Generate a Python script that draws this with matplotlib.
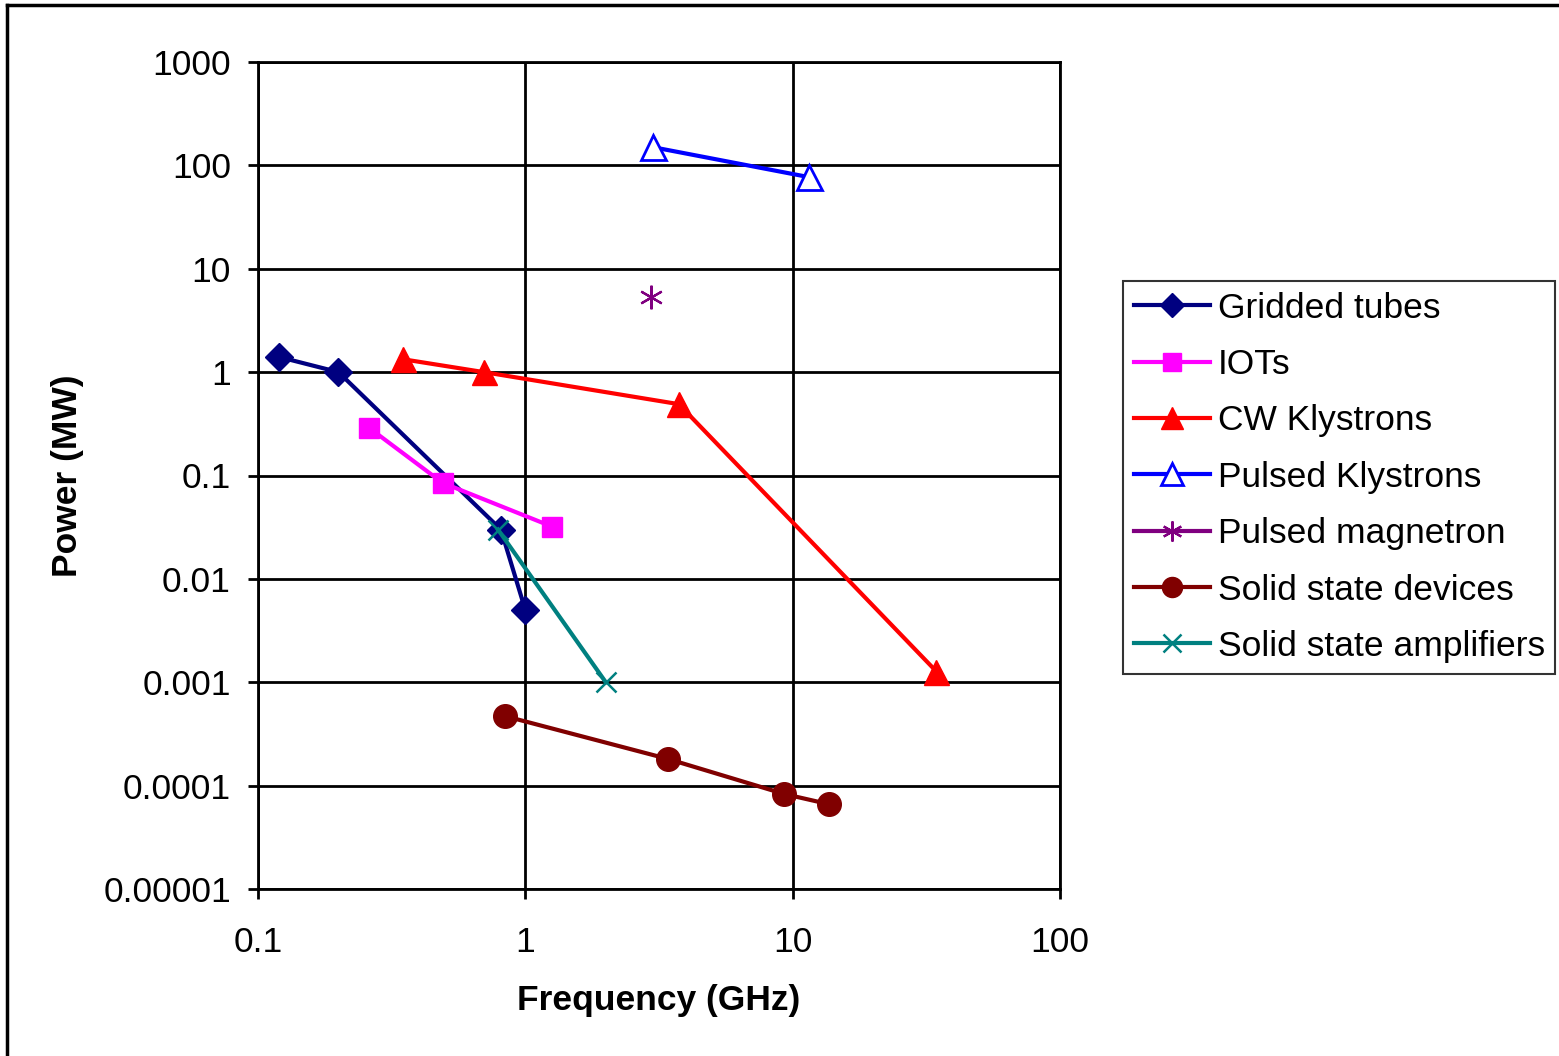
import matplotlib
matplotlib.use("Agg")
import matplotlib.pyplot as plt
from matplotlib.lines import Line2D

plt.rcParams['font.family'] = ['Liberation Sans', 'DejaVu Sans']

# Frequency (GHz) and power (MW) for each device family
gridded_f = [0.12, 0.2, 0.81, 1.0]
gridded_p = [1.4, 1.0, 0.030, 0.005]

iot_f = [0.26, 0.49, 1.26]
iot_p = [0.29, 0.085, 0.032]

cwk_f = [0.35, 0.70, 3.75, 34.5]
cwk_p = [1.33, 1.0, 0.49, 0.00127]

pk_f = [3.0, 11.5]
pk_p = [150, 77]

mag_f = [2.95]
mag_p = [5.3]

ssd_f = [0.84, 3.42, 9.3, 13.7]
ssd_p = [0.00047, 0.000181, 0.000083, 0.000066]

ssa_f = [0.79, 2.0]
ssa_p = [0.030, 0.001]

x_ticks = [0.1, 1, 10, 100]
x_ticklabels = ["0.1", "1", "10", "100"]
y_ticks = [1e-5, 1e-4, 1e-3, 1e-2, 1e-1, 1, 10, 100, 1000]
y_ticklabels = ["0.00001", "0.0001", "0.001", "0.01", "0.1", "1", "10", "100", "1000"]

W, H = 1559, 1056
fig = plt.figure(figsize=(W / 100, H / 100), dpi=100)
ax = fig.add_axes([258 / W, 1 - 889 / H, (1060 - 258) / W, (889 - 62) / H])

lw = 3
ax.plot(gridded_f, gridded_p, color='#000080', lw=lw, marker='D', ms=14,
        label='Gridded tubes', zorder=3)
ax.plot(iot_f, iot_p, color='#FF00FF', lw=lw, marker='s', ms=15,
        label='IOTs', zorder=3)
ax.plot(cwk_f, cwk_p, color='#FF0000', lw=lw, marker='^', ms=18,
        label='CW Klystrons', zorder=3)
ax.plot(pk_f, pk_p, color='#0000FF', lw=lw, marker='^', ms=18, mfc='white',
        mec='#0000FF', mew=2, label='Pulsed Klystrons', zorder=3)
ax.plot(mag_f, mag_p, color='#800080', lw=lw, marker=(6, 2, 0), ms=17, mew=1.6,
        linestyle='none', label='Pulsed magnetron', zorder=3)
ax.plot(ssd_f, ssd_p, color='#800000', lw=lw, marker='o', ms=17,
        label='Solid state devices', zorder=3)
ax.plot(ssa_f, ssa_p, color='#008080', lw=lw, marker='x', ms=15, mew=1.8,
        label='Solid state amplifiers', zorder=3)

ax.set_xscale('log')
ax.set_yscale('log')
ax.set_xlim(0.1, 100)
ax.set_ylim(1e-5, 1000)
ax.set_xticks(x_ticks)
ax.set_xticklabels(x_ticklabels)
ax.set_yticks(y_ticks)
ax.set_yticklabels(y_ticklabels)
ax.minorticks_off()
ax.tick_params(axis='both', which='major', labelsize=25.5, length=7.5, width=2,
               color='black', direction='out')
ax.tick_params(axis='y', pad=12)
ax.tick_params(axis='x', pad=19)
ax.grid(True, which='major', color='black', lw=2)
for s in ax.spines.values():
    s.set_linewidth(2)
    s.set_color('black')

ax.set_xlabel('Frequency (GHz)', fontsize=25.5, fontweight='bold', labelpad=18)
ax.set_ylabel('Power (MW)', fontsize=25.5, fontweight='bold', labelpad=14)

# Legend handles: Pulsed magnetron shown with a line like the others
handles, labels = ax.get_legend_handles_labels()
handles[4] = Line2D([], [], color='#800080', lw=lw, marker=(6, 2, 0), ms=17, mew=1.6)
leg = fig.legend(handles, labels, loc='upper left',
                 bbox_to_anchor=(1123 / W, 1 - 281 / H), bbox_transform=fig.transFigure,
                 fontsize=25.5, frameon=True, fancybox=False, edgecolor='black',
                 handlelength=2.15, handletextpad=0.22, labelspacing=0.66,
                 borderpad=0.3, borderaxespad=0, markerscale=0.85)
leg.get_frame().set_linewidth(1.5)

# Outer chart border (top and left edges)
fig.add_artist(Line2D([7 / W, 7 / W], [0, 1 - 5 / H], transform=fig.transFigure,
                      color='black', lw=2.5))
fig.add_artist(Line2D([7 / W, 1], [1 - 5 / H, 1 - 5 / H], transform=fig.transFigure,
                      color='black', lw=2.5))

fig.savefig('out.png', dpi=100)
